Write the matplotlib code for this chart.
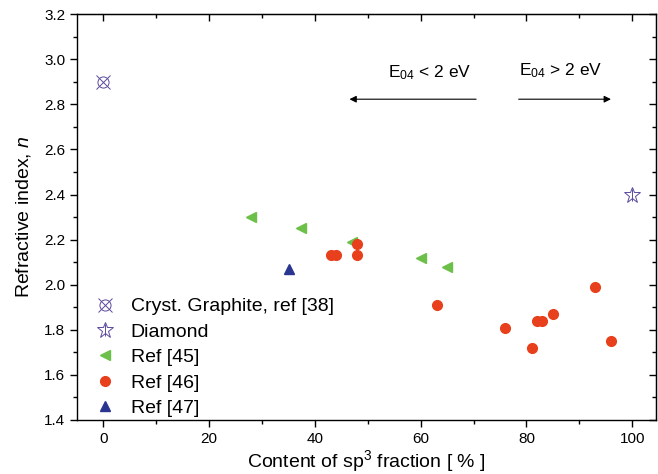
import numpy as np
import matplotlib.pyplot as plt

plt.rcParams['font.family'] = ['Liberation Sans', 'DejaVu Sans']
plt.rcParams['mathtext.fontset'] = 'custom'
plt.rcParams['mathtext.rm'] = 'Liberation Sans'
plt.rcParams['mathtext.it'] = 'Liberation Sans:italic'

# *****************************************************************************

graphite_x = [0]
graphite_n = [2.90]
diamond_x = [100]
diamond_n = [2.40]

ref45_x = [28, 37.3, 47, 60, 65]
ref45_n = [2.30, 2.25, 2.19, 2.12, 2.08]

ref46_x = [43, 44, 48, 48, 63, 76, 81, 82, 83, 85, 93, 96]
ref46_n = [2.13, 2.13, 2.18, 2.13, 1.91, 1.81, 1.72, 1.84, 1.84, 1.87, 1.99, 1.75]

ref47_x = [35]
ref47_n = [2.07]

# *****************************************************************************


def make_fig():

    purple = '#5b4a9e'
    fig01 = plt.figure(figsize=(6.58, 4.74), dpi=100)
    axs01 = fig01.add_axes([0.117, 0.114, 0.880, 0.856])

    g1, = axs01.plot(graphite_x, graphite_n, 'o', ms=8, mfc='none', mec=purple, mew=0.7)
    g2, = axs01.plot(graphite_x, graphite_n, 'x', ms=10, color=purple, mew=0.7)
    d1, = axs01.plot(diamond_x, diamond_n, '*', ms=12, mfc='none', mec=purple, mew=0.7)
    d2, = axs01.plot(diamond_x, diamond_n, '|', ms=8, color=purple, mew=0.7)
    r45, = axs01.plot(ref45_x, ref45_n, '<', ms=7, color='#6cc04a', ls='none')
    r46, = axs01.plot(ref46_x, ref46_n, 'o', ms=7, color='#e8401c', ls='none')
    r47, = axs01.plot(ref47_x, ref47_n, '^', ms=7.5, color='#2a3590', ls='none')

    axs01.legend([(g1, g2), (d1, d2), r45, r46, r47],
                 ['Cryst. Graphite, ref [38]', 'Diamond', 'Ref [45]', 'Ref [46]', 'Ref [47]'],
                 loc='lower left', bbox_to_anchor=(0.002, -0.026), frameon=False,
                 fontsize=14, handlelength=1.4, handletextpad=0.6,
                 labelspacing=0.4, borderaxespad=0.3)

    # E04 arrows
    axs01.annotate('', xy=(46, 2.823), xytext=(71, 2.823),
                   arrowprops=dict(arrowstyle='-|>', color='black', lw=0.8,
                                   mutation_scale=10))
    axs01.annotate('', xy=(96.5, 2.823), xytext=(78, 2.823),
                   arrowprops=dict(arrowstyle='-|>', color='black', lw=0.8,
                                   mutation_scale=10))
    axs01.text(53.8, 2.94, r'E$_{04}$ < 2 eV', fontsize=12.5, va='center', ha='left')
    axs01.text(78.6, 2.95, r'E$_{04}$ > 2 eV', fontsize=12.5, va='center', ha='left')

    axs01.set_xlim(-5, 104.5)
    axs01.set_ylim(1.4, 3.2)
    axs01.set_xticks(np.arange(0, 101, 20))
    axs01.set_xticks(np.arange(-0, 101, 10), minor=True)
    axs01.set_yticks(np.arange(1.4, 3.21, 0.2))
    axs01.set_yticks(np.arange(1.5, 3.2, 0.2), minor=True)
    axs01.yaxis.set_major_formatter(plt.FormatStrFormatter('%.1f'))

    axs01.tick_params(which='both', direction='out', labelsize=11, width=1.0)
    axs01.tick_params(which='major', length=5)
    axs01.tick_params(which='minor', length=3)

    # mirrored ticks pointing inward on top/right
    sec_x = axs01.secondary_xaxis('top')
    sec_x.set_xticks(np.arange(0, 101, 20))
    sec_x.set_xticks(np.arange(-0, 101, 10), minor=True)
    sec_x.tick_params(which='both', direction='in', labeltop=False, width=1.0)
    sec_x.tick_params(which='major', length=5)
    sec_x.tick_params(which='minor', length=3)
    sec_y = axs01.secondary_yaxis('right')
    sec_y.set_yticks(np.arange(1.4, 3.21, 0.2))
    sec_y.set_yticks(np.arange(1.5, 3.2, 0.2), minor=True)
    sec_y.tick_params(which='both', direction='in', labelright=False, width=1.0)
    sec_y.tick_params(which='major', length=5)
    sec_y.tick_params(which='minor', length=3)

    for sp in axs01.spines.values():
        sp.set_linewidth(1.0)

    axs01.set_xlabel(r'Content of sp$^3$ fraction [ % ]', fontsize=14, labelpad=2)
    axs01.set_ylabel(r'Refractive index, $n$', fontsize=14, labelpad=8)

    plt.savefig('out.png')
    plt.close()

    return None

# *****************************************************************************


if (__name__ == "__main__"):

    make_fig()

# *****************************************************************************
